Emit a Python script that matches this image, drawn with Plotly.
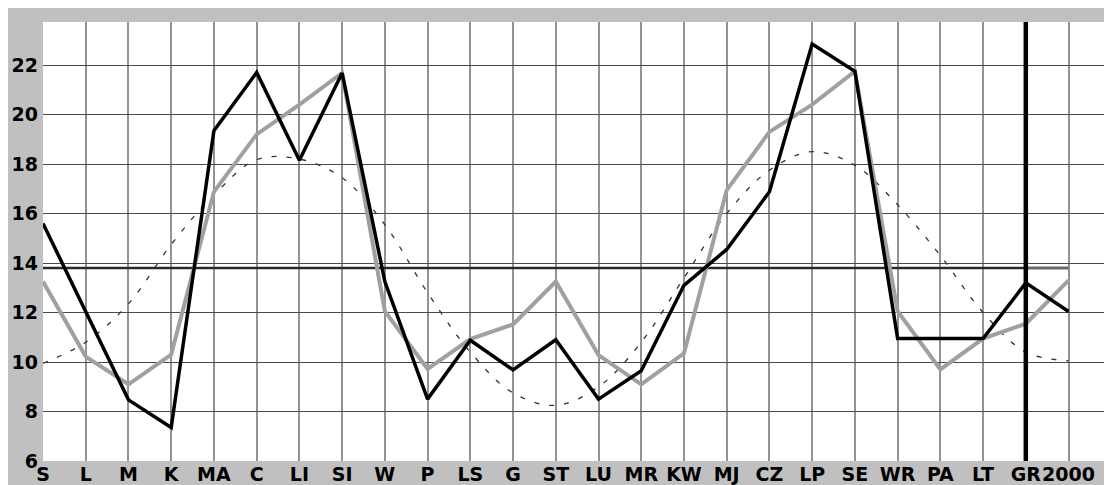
import plotly.graph_objects as go

categories = ["S", "L", "M", "K", "MA", "C", "LI", "SI", "W", "P", "LS", "G", "ST",
              "LU", "MR", "KW", "MJ", "CZ", "LP", "SE", "WR", "PA", "LT", "GR", "2000"]

actual = [15.6, 12.05, 8.47, 7.35, 19.35, 21.7, 18.15, 21.68, 13.25, 8.5, 10.88, 9.68, 10.9,
          8.5, 9.65, 13.1, 14.55, 16.88, 22.85, 21.75, 10.95, 10.95, 10.95, 13.2, 12.04]

seasonal = [13.25, 10.22, 9.1, 10.3, 16.88, 19.2, 20.4, 21.68, 12.05, 9.72, 10.93, 11.52, 13.25,
            10.28, 9.1, 10.35, 16.95, 19.3, 20.4, 21.75, 12.05, 9.7, 10.95, 11.55, 13.3]

cycle = [9.95, 10.8, 12.35, 14.75, 16.75, 18.18, 18.2, 17.45, 15.55, 12.8, 10.4, 8.75, 8.25,
         9.0, 10.8, 13.4, 16.0, 17.75, 18.5, 17.95, 16.35, 14.3, 12.0, 10.4, 10.05]

mean_value = 13.8
marker_category = "GR"
y_ticks = [6, 8, 10, 12, 14, 16, 18, 20, 22]
y_range = [6, 23.74]

xs = list(range(len(categories)))
gr_idx = categories.index(marker_category)

# page has an 8px body margin, so the figure starts at (8, 8)
W, H = 1104, 477
ML, MR, MT, MB = 35, 2, 14, 24

fig = go.Figure()

fig.add_trace(go.Scatter(x=xs, y=cycle, mode="lines",
                         line=dict(color="#333333", width=1.3, dash="5px,10px", shape="spline"),
                         hoverinfo="skip"))
fig.add_trace(go.Scatter(x=[xs[0], xs[gr_idx]], y=[mean_value, mean_value], mode="lines",
                         line=dict(color="#2a2a2a", width=2.6), hoverinfo="skip"))
fig.add_trace(go.Scatter(x=[xs[gr_idx], xs[-1]], y=[mean_value, mean_value], mode="lines",
                         line=dict(color="#6a6a6a", width=3), hoverinfo="skip"))
fig.add_trace(go.Scatter(x=xs, y=seasonal, mode="lines",
                         line=dict(color="#a0a0a0", width=4), hoverinfo="skip"))
fig.add_trace(go.Scatter(x=xs, y=actual, mode="lines",
                         line=dict(color="#000000", width=3.5), hoverinfo="skip"))
fig.add_trace(go.Scatter(x=[xs[gr_idx], xs[gr_idx]], y=y_range, mode="lines",
                         line=dict(color="#000000", width=4.5), hoverinfo="skip"))

yfont = dict(family="DejaVu Sans", size=19, color="#000000", weight="bold")
xfont = dict(family="DejaVu Sans", size=19, color="#000000", weight="bold")

fig.update_layout(
    width=W, height=H,
    margin=dict(l=ML, r=MR, t=MT, b=MB, pad=0, autoexpand=False),
    paper_bgcolor="#c0c0c0",
    plot_bgcolor="#ffffff",
    showlegend=False,
    xaxis=dict(range=[0, 24.97], tickvals=xs, ticktext=categories, showgrid=True,
               gridcolor="#939393", gridwidth=1.6, zeroline=False, showline=False,
               ticks="", tickfont=xfont, tickangle=0, automargin=False,
               fixedrange=True, ticklabelstandoff=0),
    yaxis=dict(range=y_range, tickvals=y_ticks, showgrid=True,
               gridcolor="#4a4a4a", gridwidth=1.3, zeroline=False, showline=False,
               ticks="", tickfont=yfont, automargin=False,
               fixedrange=True, ticklabelstandoff=4),
)

fig.write_html("out.html", config={"displayModeBar": False})
